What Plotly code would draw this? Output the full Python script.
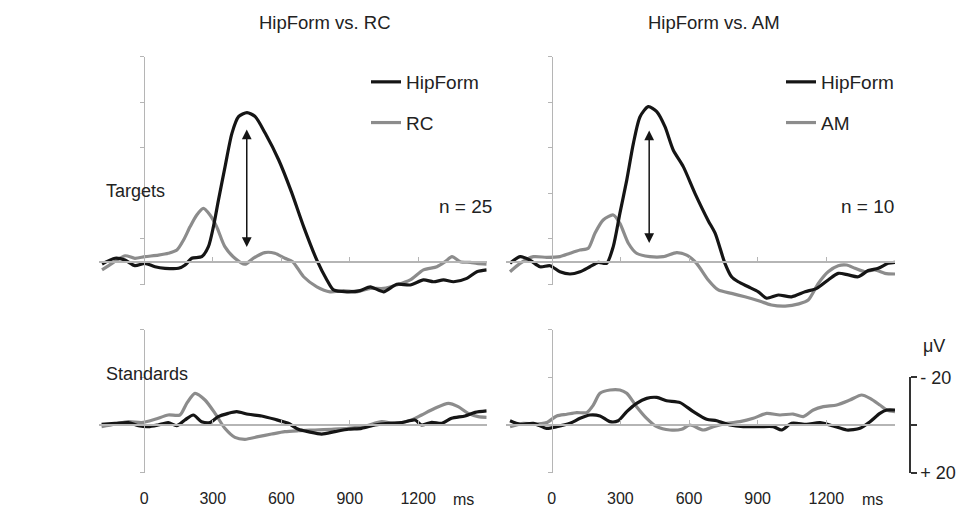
import plotly.graph_objects as go

# ---------------- data (time in ms, amplitude in µV, negative plotted up) ----------------
TL_HIP_T = [-185, -128, -84, -41, 3, 47, 91, 150, 179, 208, 252, 281, 303, 325, 354, 384, 413, 450,
            486, 530, 589, 645, 698, 756, 800, 829, 888, 946, 990, 1048, 1106, 1165, 1223, 1267,
            1311, 1355, 1413, 1457, 1500]
TL_HIP_V = [1.0, -1.5, -0.7, 1.75, 0.7, 2.2, 2.9, 2.9, 1.45, -1.5, -2.2, -6.6, -15.4, -27, -41.7,
            -56.3, -63.6, -65.4, -63.6, -56.3, -44.6, -30.5, -15.4, -0.7, 8, 12.4, 13.2, 12.7, 11,
            13.2, 9.9, 10.2, 8, 8.8, 8, 8.8, 7.3, 4.4, 3.6]

TL_RC_T = [-185, -141, -84, -41, 3, 62, 106, 143, 172, 201, 230, 259, 288, 317, 353, 397, 441, 477,
           528, 572, 616, 650, 698, 756, 814, 872, 931, 990, 1048, 1106, 1165, 1223, 1282, 1318,
           1348, 1384, 1428, 1457, 1500]
TL_RC_V = [3.6, 0.7, -2.6, -1.5, -2.2, -2.9, -3.7, -5.1, -9.5, -15.4, -20.5, -23.4, -20.5, -15.4,
           -6.6, -1.5, 1.1, -1.5, -4, -3.7, -1.5, 0, 6.6, 11, 13.2, 12.7, 13.2, 11.7, 11.7, 10.2,
           8, 3.6, 2.2, 0, -2.2, 0, 0.3, 0.7, 1.1]

TR_HIP_T = [-182, -138, -95, -51, -7, 36, 80, 124, 167, 204, 240, 269, 298, 328, 357, 386, 422,
            459, 495, 531, 575, 626, 684, 714, 757, 786, 815, 859, 903, 939, 990, 1048, 1107, 1158,
            1208, 1252, 1296, 1339, 1383, 1427, 1470, 1500]
TR_HIP_V = [0.7, -2.2, -0.7, 2.2, 1.75, 4.4, 5.4, 4.4, 2.2, 0.3, 0.7, -6.6, -21.2, -35.8, -51.9,
            -63.6, -68, -65.8, -59.2, -49, -41.7, -30, -18, -12.5, 0.7, 6.6, 8.8, 11, 13.2, 16,
            14.6, 15.4, 13.2, 11.7, 8, 5.1, 5.8, 6.6, 3.9, 2.9, 0.7, 0.3]

TR_AM_T = [-182, -138, -80, -22, 36, 80, 124, 160, 189, 225, 269, 298, 335, 371, 429, 488, 546,
           590, 633, 684, 728, 786, 844, 900, 960, 1020, 1080, 1121, 1165, 1208, 1252, 1289, 1325,
           1369, 1412, 1456, 1500]
TR_AM_V = [4.4, 0.7, -2.2, -1.9, -2.2, -3.7, -5.1, -5.9, -12.5, -18.3, -20.5, -16.8, -8.1, -3.7,
           -2.2, -2.2, -4, -2.9, 0.7, 8, 12.4, 13.9, 15.4, 17, 19, 19.5, 18.5, 16.8, 9.5, 4.4, 1.75,
           1.45, 2.9, 4.4, 3.6, 5.1, 5.4]

BL_HIP_T = [-187, -128, -70, -26, 18, 61, 105, 142, 178, 215, 251, 288, 324, 368, 405, 456, 514,
            572, 631, 675, 718, 777, 835, 894, 952, 1011, 1069, 1127, 1186, 1215, 1259, 1303, 1346,
            1405, 1449, 1500]
BL_HIP_V = [-0.3, -0.7, -1, 0.3, 0.7, 0, -1, 0.3, -2.1, -4.2, -1.4, -1, -3.5, -4.9, -5.6, -4.5,
            -3.8, -2.4, -0.7, 1.8, 2.8, 3.8, 2.8, 1.8, 1.4, 0, -0.7, -1, -2.1, 0, -1.1, -0.7, -2.8,
            -3.8, -5.3, -5.9]

BL_RC_T = [-187, -128, -70, -11, 47, 105, 156, 186, 222, 266, 310, 353, 397, 441, 499, 558, 616,
           675, 748, 821, 894, 967, 1040, 1098, 1171, 1215, 1273, 1332, 1375, 1419, 1463, 1500]
BL_RC_V = [0.7, -0.3, -1.4, -1, -2.4, -4.2, -4.2, -9.1, -13.3, -10.5, -4.9, 1.4, 5.2, 6, 4.9, 3.8,
           2.8, 2.4, 2.1, 1.8, 1.4, 0.4, -1.4, -0.7, -2.1, -4.2, -7, -9.1, -7.7, -4.9, -3.5, -3.2]

BR_HIP_T = [-182, -138, -80, -22, 22, 80, 124, 167, 211, 255, 291, 328, 371, 415, 459, 502, 561,
            619, 677, 721, 779, 837, 910, 968, 1005, 1048, 1114, 1172, 1230, 1289, 1347, 1391,
            1434, 1464, 1500]
BR_HIP_V = [-1.8, -0.3, -0.7, 1.4, 0.7, -0.7, -2.8, -4.2, -3.8, -1.4, -1.8, -5.6, -9.1, -11.2,
            -11.6, -10.2, -9.4, -5.6, -2.4, -1.8, 0, 0.7, 0.7, 0.7, 2.1, -0.7, -0.3, -1, 0.4, 2.1,
            1.4, -1.4, -4.9, -6.3, -6.3]

BR_AM_T = [-182, -124, -80, -22, 22, 66, 109, 153, 182, 211, 255, 298, 328, 371, 415, 459, 517,
           568, 604, 662, 706, 765, 823, 881, 939, 997, 1055, 1099, 1143, 1187, 1245, 1303, 1354,
           1391, 1434, 1464, 1500]
BR_AM_V = [0.7, -0.7, -0.4, -1, -3.8, -4.5, -5.2, -5.2, -8.4, -13.3, -14.7, -14.7, -13.3, -7.7,
           -2.8, 0.7, 2.1, 1.8, 0, 2.1, 0.7, -0.7, -1.4, -2.8, -4.9, -4.2, -4.6, -3.5, -6.3, -7.7,
           -8.4, -10.5, -12.6, -11.2, -8.4, -6.3, -5.6]

# double-headed arrows marking the HipForm vs. comparison difference (ms, top µV, bottom µV)
ARROW_L = (449, -58.6, -6.4)
ARROW_R = (426, -58.2, -8.2)

PANEL_TITLES = ["HipForm vs. RC", "HipForm vs. AM"]
ROW_LABELS = ["Targets", "Standards"]
N_LABELS = ["n = 25", "n = 10"]
TIME_TICKS = [0, 300, 600, 900, 1200]
BASE_TICKS = [300, 600, 900, 1200, 1500]
TOP_YTICKS = [10, -10, -30, -50, -70, -90]
BOT_YTICKS = [20, 0, -20, -40]
SCALE_TICKS = [-20, 0, 20]
SCALE_TEXT = ["- 20", "", "+ 20"]

# ---------------- geometry ----------------
W, H = 969, 508
BLACK = "#151515"
GRAY = "#8c8c8c"
AXGRAY = "#b5b5b5"
FONT = "Liberation Sans, Arial, sans-serif"


def py(pix):
    return 1 - pix / H


def px(pix):
    return pix / W


X_RANGE = [-200, 1500]
XDOM_L = [px(98.6), px(486.7)]
XDOM_R = [px(505.9), px(895.0)]
ZERO_X_L = px(144.3)
ZERO_X_R = px(551.7)

# top row: zero at 261.7 px, 2.28 px per µV ; bottom row: zero at 425 px, 2.38 px per µV
TOP_Z, TOP_K = 261.7, 2.28
BOT_Z, BOT_K = 425.0, 2.38


def yrange(zero, k, top_pix, bot_pix):
    return [(bot_pix - zero) / k, (top_pix - zero) / k]


def ydom(zero, k, vmax, vmin):
    # vmax is the lower (positive) end, vmin the upper (negative) end
    return [py(zero + vmax * k), py(zero + vmin * k)]


fig = go.Figure()


def add_series(t, v, color, name, xa, ya, legend, rank, group):
    fig.add_trace(go.Scatter(
        x=t, y=v, mode="lines", name=name,
        line=dict(color=color, width=3.2, shape="spline", smoothing=0.7),
        xaxis=xa, yaxis=ya, legend=legend, legendrank=rank, legendgroup=group,
        showlegend=legend is not None, hoverinfo="skip"))


# gray first so black sits on top
add_series(TL_RC_T, TL_RC_V, GRAY, "RC", "x", "y", "legend", 2, "l2")
add_series(TL_HIP_T, TL_HIP_V, BLACK, "HipForm", "x", "y", "legend", 1, "l1")
add_series(TR_AM_T, TR_AM_V, GRAY, "AM", "x2", "y2", "legend2", 2, "r2")
add_series(TR_HIP_T, TR_HIP_V, BLACK, "HipForm", "x2", "y2", "legend2", 1, "r1")
add_series(BL_RC_T, BL_RC_V, GRAY, "RC", "x3", "y3", None, 3, "b1")
add_series(BL_HIP_T, BL_HIP_V, BLACK, "HipForm", "x3", "y3", None, 3, "b2")
add_series(BR_AM_T, BR_AM_V, GRAY, "AM", "x4", "y4", None, 3, "b3")
add_series(BR_HIP_T, BR_HIP_V, BLACK, "HipForm", "x4", "y4", None, 3, "b4")

# empty traces that register the amplitude axes, label axes and scale bar
for xa, ya in [("x", "y5"), ("x2", "y6"), ("x3", "y7"), ("x4", "y8"), ("x4", "y9"),
               ("x5", "y3"), ("x6", "y4")]:
    fig.add_trace(go.Scatter(x=[None], y=[None], xaxis=xa, yaxis=ya, mode="lines",
                             showlegend=False, hoverinfo="skip"))

base_x = dict(range=X_RANGE, anchor="free", showline=True, linecolor=AXGRAY, linewidth=1.5,
              ticks="inside", ticklen=4, tickwidth=1.2, tickcolor=AXGRAY, tickvals=BASE_TICKS,
              showticklabels=False, showgrid=False, zeroline=False, fixedrange=True)
label_x = dict(range=X_RANGE, anchor="free", showline=False, ticks="", showgrid=False,
               zeroline=False, tickvals=TIME_TICKS, ticktext=[str(t) for t in TIME_TICKS],
               tickfont=dict(family=FONT, size=16, color="#222"))
hidden_y = dict(visible=False, showgrid=False, zeroline=False, fixedrange=True)
amp_y = dict(anchor="free", showline=True, linecolor=AXGRAY, linewidth=1.2, ticks="outside",
             ticklen=4, tickwidth=1.2, tickcolor=AXGRAY, showticklabels=False, showgrid=False,
             zeroline=False, fixedrange=True)

top_data_rng = yrange(TOP_Z, TOP_K, 45, 315)
bot_data_rng = yrange(BOT_Z, BOT_K, 318, 482)
top_data_dom = [py(315), py(45)]
bot_data_dom = [py(482), py(318)]

legend_style = dict(xanchor="left", yanchor="top", bgcolor="rgba(0,0,0,0)",
                    font=dict(family=FONT, size=19, color="#222"), tracegroupgap=13,
                    traceorder="grouped")

fig.update_layout(
    width=W, height=H, margin=dict(l=0, r=0, t=0, b=0, autoexpand=False),
    paper_bgcolor="white", plot_bgcolor="rgba(0,0,0,0)",
    font=dict(family=FONT, color="#222"),
    xaxis=dict(base_x, domain=XDOM_L, position=py(TOP_Z)),
    xaxis2=dict(base_x, domain=XDOM_R, position=py(TOP_Z)),
    xaxis3=dict(base_x, domain=XDOM_L, position=py(BOT_Z)),
    xaxis4=dict(base_x, domain=XDOM_R, position=py(BOT_Z)),
    xaxis5=dict(label_x, overlaying="x3", position=py(487)),
    xaxis6=dict(label_x, overlaying="x4", position=py(487)),
    yaxis=dict(hidden_y, domain=top_data_dom, range=top_data_rng),
    yaxis2=dict(hidden_y, domain=top_data_dom, range=top_data_rng),
    yaxis3=dict(hidden_y, domain=bot_data_dom, range=bot_data_rng),
    yaxis4=dict(hidden_y, domain=bot_data_dom, range=bot_data_rng),
    yaxis5=dict(amp_y, position=ZERO_X_L, domain=ydom(TOP_Z, TOP_K, 10, -90),
                range=[10, -90], tickvals=TOP_YTICKS),
    yaxis6=dict(amp_y, position=ZERO_X_R, domain=ydom(TOP_Z, TOP_K, 10, -90),
                range=[10, -90], tickvals=TOP_YTICKS),
    yaxis7=dict(amp_y, position=ZERO_X_L, domain=ydom(BOT_Z, BOT_K, 20, -40),
                range=[20, -40], tickvals=BOT_YTICKS),
    yaxis8=dict(amp_y, position=ZERO_X_R, domain=ydom(BOT_Z, BOT_K, 20, -40),
                range=[20, -40], tickvals=BOT_YTICKS),
    yaxis9=dict(anchor="free", position=px(910), side="right",
                domain=ydom(BOT_Z, BOT_K, 20, -20), range=[20, -20],
                tickvals=SCALE_TICKS, ticktext=SCALE_TEXT, ticks="outside", ticklen=6,
                tickwidth=1.5, tickcolor="#333", showline=True, linecolor="#333", linewidth=1.5,
                showgrid=False, zeroline=False, fixedrange=True,
                tickfont=dict(family=FONT, size=18, color="#222")),
    legend=dict(legend_style, x=px(366), y=py(63)),
    legend2=dict(legend_style, x=px(781), y=py(63)),
    showlegend=True,
)


def label(text, x, y, size, xanchor="center", xref="paper"):
    return dict(text=text, x=x, y=py(y), xref=xref, yref="paper", xanchor=xanchor,
                yanchor="middle", showarrow=False, font=dict(family=FONT, size=size, color="#222"))


annotations = [
    label(PANEL_TITLES[0], px(325), 22, 18.5),
    label(PANEL_TITLES[1], px(714), 22, 18.5),
    label(ROW_LABELS[0], px(104), 191, 18, "left"),
    label(ROW_LABELS[1], px(104), 374, 18, "left"),
    label(N_LABELS[0], px(494), 207, 19, "right"),
    label(N_LABELS[1], px(896), 207, 19, "right"),
    label("ms", 1400, 499, 16, xref="x3"),
    label("ms", 1400, 499, 16, xref="x4"),
    label("\u03bcV", px(934), 346, 18),
]
for (t, vtop, vbot), xa, ya in [(ARROW_L, "x", "y"), (ARROW_R, "x2", "y2")]:
    annotations.append(dict(
        x=t, y=vbot, ax=t, ay=vtop, xref=xa, yref=ya, axref=xa, ayref=ya, text="",
        showarrow=True, arrowside="end+start", arrowhead=2, arrowsize=1.3, arrowwidth=1.5,
        arrowcolor=BLACK))
fig.update_layout(annotations=annotations)

fig.write_html("out.html")
